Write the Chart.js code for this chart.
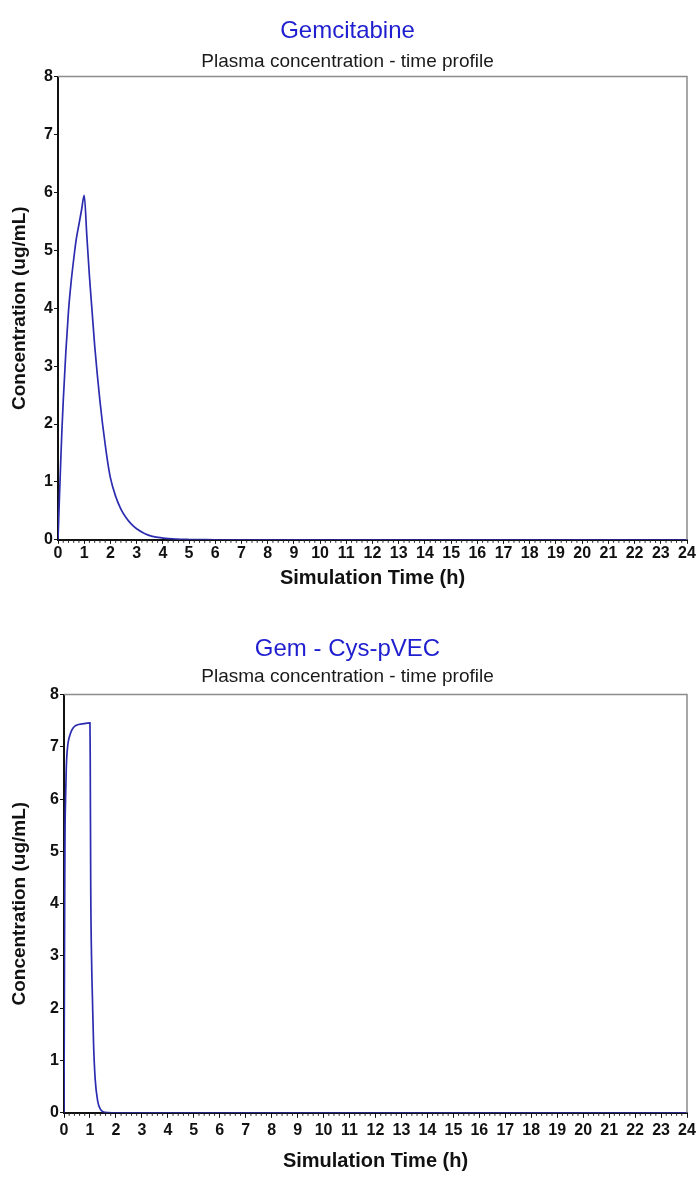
<!DOCTYPE html>
<html>
<head>
<meta charset="utf-8">
<script src="https://cdn.jsdelivr.net/npm/chart.js@4.4.0/dist/chart.umd.min.js"></script>
<style>
  body { margin: 0; background: #fff; }
  .box { position: absolute; left: 0; width: 699px; }
</style>
</head>
<body>
<div class="box" style="top:0; height:600px;"><canvas id="gemChart"></canvas></div>
<div class="box" style="top:615px; height:572px;"><canvas id="cysChart"></canvas></div>
<script>
// Gemcitabine (top panel)
var gemTime = [0, 0.03, 0.06, 0.1, 0.15, 0.2, 0.3, 0.4, 0.5, 0.6, 0.7, 0.8, 0.9, 1.0,
  1.1, 1.2, 1.3, 1.4, 1.5, 1.6, 1.7, 1.8, 1.9, 2.0, 2.2, 2.4, 2.6, 2.8, 3.0, 3.3, 3.6, 4.0, 4.5, 5.0, 5.5, 6, 24]
var gemConc = [0, 0.4, 0.8, 1.3, 1.9, 2.4, 3.25, 3.95, 4.45, 4.85, 5.2, 5.45, 5.7, 5.95,
  5.25, 4.55, 3.95, 3.35, 2.85, 2.4, 2.0, 1.65, 1.33, 1.07, 0.75, 0.53, 0.38, 0.27, 0.19, 0.11, 0.06, 0.03, 0.012, 0.005, 0.002, 0, 0]

// Gem - Cys-pVEC (bottom panel)
var cysTime = [0, 0.01, 0.02, 0.03, 0.04, 0.06, 0.08, 0.1, 0.15, 0.2, 0.3, 0.4, 0.5, 0.7, 1.0,
  1.01, 1.03, 1.06, 1.1, 1.14, 1.2, 1.3, 1.4, 1.5, 1.7, 2, 24]
var cysConc = [0, 1.6, 3.2, 4.5, 5.4, 6.0, 6.45, 6.75, 7.05, 7.18, 7.32, 7.39, 7.42, 7.44, 7.46,
  6.8, 4.3, 3.0, 2.1, 1.3, 0.65, 0.22, 0.07, 0.02, 0.005, 0, 0]

var xTicks = ['0','1','2','3','4','5','6','7','8','9','10','11','12','13','14','15','16','17','18','19','20','21','22','23','24']
var yTicks = ['0','1','2','3','4','5','6','7','8']

var frameAndMinor = {
  id: 'frameAndMinor',
  afterDraw: function(chart){
    var ctx = chart.ctx
    var a = chart.chartArea
    var xs = chart.scales.x
    ctx.save()
    // gray frame top/right
    ctx.strokeStyle = '#8c8c8c'
    ctx.lineWidth = 1.5
    ctx.beginPath()
    ctx.moveTo(a.left, a.top)
    ctx.lineTo(a.right, a.top)
    ctx.lineTo(a.right, a.bottom)
    ctx.stroke()
    // minor ticks on x
    ctx.strokeStyle = '#222'
    ctx.lineWidth = 1
    ctx.beginPath()
    for (var i = 0; i < 24 * 5; i++){
      if (i % 5 == 0) continue
      var px = xs.getPixelForValue(i / 5)
      ctx.moveTo(px, a.bottom)
      ctx.lineTo(px, a.bottom + 3)
    }
    ctx.stroke()
    ctx.restore()
  }
}

function makeChart(id, title, time, conc, o){
  var pts = []
  for (var i = 0; i < time.length; i++) pts.push({x: time[i], y: conc[i]})
  var ctx = document.getElementById(id).getContext('2d')
  return new Chart(ctx, {
    type: 'line',
    plugins: [frameAndMinor],
    data: {
      datasets: [{
        data: pts,
        borderColor: '#2c2cb0',
        borderWidth: 1.7,
        pointRadius: 0,
        cubicInterpolationMode: 'monotone',
        fill: false
      }]
    },
    options: {
      responsive: true,
      maintainAspectRatio: false,
      animation: false,
      layout: { padding: { left: 8, right: 12, bottom: o.bottomPad, top: 0 } },
      plugins: {
        legend: { display: false },
        tooltip: { enabled: false },
        title: {
          display: true,
          text: title,
          color: '#1f1fd0',
          font: { family: 'Liberation Sans', size: 24, weight: 'normal' },
          padding: { top: o.titleTop, bottom: o.titleBottom }
        },
        subtitle: {
          display: true,
          text: 'Plasma concentration - time profile',
          color: '#1a1a1a',
          font: { family: 'Liberation Sans', size: 19 },
          padding: { top: o.subTop, bottom: o.subBottom }
        }
      },
      scales: {
        x: {
          type: 'linear',
          min: 0,
          max: 24,
          afterBuildTicks: function(scale){
            scale.ticks = xTicks.map(function(t){ return { value: Number(t) } })
          },
          ticks: {
            color: '#111',
            font: { family: 'Liberation Sans', size: 16, weight: 'bold' },
            padding: o.labelPad,
            maxRotation: 0,
            autoSkip: false,
            callback: function(v){ return xTicks[v] }
          },
          grid: { drawOnChartArea: false, color: '#111', tickLength: o.tickLen },
          border: { color: '#111', width: 2 },
          title: {
            display: true,
            text: 'Simulation Time (h)',
            color: '#111',
            font: { family: 'Liberation Sans', size: 20, weight: 'bold' },
            padding: { top: o.xTitlePad, bottom: 0 }
          }
        },
        y: {
          min: 0,
          max: 8,
          afterBuildTicks: function(scale){
            scale.ticks = yTicks.map(function(t){ return { value: Number(t) } })
          },
          afterFit: function(scale){ scale.width = o.leftW },
          ticks: {
            color: '#111',
            font: { family: 'Liberation Sans', size: 16, weight: 'bold' },
            padding: 1,
            callback: function(v){ return yTicks[v] }
          },
          grid: { drawOnChartArea: false, color: '#111', tickLength: 4 },
          border: { color: '#111', width: 2 },
          title: {
            display: true,
            text: 'Concentration (ug/mL)',
            color: '#111',
            font: { family: 'Liberation Sans', size: 19, weight: 'bold' },
            padding: { top: 0, bottom: 2 }
          }
        }
      }
    }
  })
}

makeChart('gemChart', 'Gemcitabine', gemTime, gemConc,
  { leftW: 50, tickLen: 4, labelPad: 0, xTitlePad: 3, bottomPad: 10, titleTop: 17, titleBottom: 3, subTop: 2, subBottom: 3 })
makeChart('cysChart', 'Gem - Cys-pVEC', cysTime, cysConc,
  { leftW: 56, tickLen: 5, labelPad: 3, xTitlePad: 6, bottomPad: 14, titleTop: 20, titleBottom: 2, subTop: 0, subBottom: 6 })
</script>
</body>
</html>
